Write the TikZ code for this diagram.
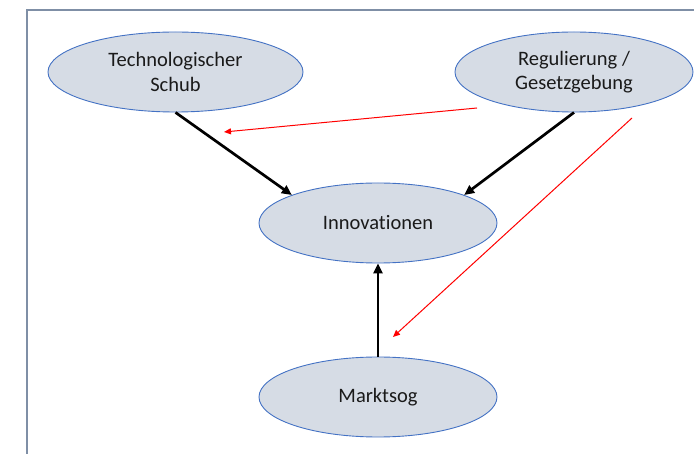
\documentclass[tikz,border=0pt]{standalone}
\usepackage{fontspec}
\setmainfont[Ligatures=NoCommon]{Carlito}
\usetikzlibrary{shapes.geometric,arrows.meta}
\definecolor{ellfill}{HTML}{D6DCE5}
\definecolor{elldraw}{HTML}{4472C4}
\definecolor{framecol}{HTML}{7F8FA6}
\definecolor{txt}{HTML}{1A1A1A}
\tikzset{
  ell/.style={ellipse, draw=elldraw, fill=ellfill, line width=0.9pt, inner sep=0pt,
    minimum height=80pt, text=txt, align=center,
    font=\fontsize{20.5}{24.5}\selectfont},
  blk/.style={line width=2.7pt, -{Triangle[length=10pt,width=9pt]}},
  redarr/.style={red, line width=1pt, -{Triangle[length=7pt,width=6pt]}}
}
\begin{document}
\begin{tikzpicture}[x=1pt,y=-1pt]
\useasboundingbox (0,0) rectangle (694,454);
\draw[framecol, line width=1.6pt] (27,454) -- (27,10) -- (694,10);
\node[ell, minimum width=255pt] (tech) at (175.5,72) {Technologischer\\Schub};
\node[ell, minimum width=238pt] (reg) at (574,72) {Regulierung /\\Gesetzgebung};
\node[ell, minimum width=238pt] (inno) at (378,223) {Innovationen};
\node[ell, minimum width=238pt] (mark) at (378,397) {Marktsog};
\draw[blk] (tech.south) -- (inno.162);
\draw[blk] (reg.south) -- (inno.18);
\draw[blk] (mark.north) -- (inno.south);
\coordinate (r1s) at (477,108);
\coordinate (r1e) at (224,132);
\coordinate (r2s) at (632,118);
\coordinate (r2e) at (393,337);
\draw[redarr] (r1s) -- (r1e);
\draw[redarr] (r2s) -- (r2e);
\end{tikzpicture}
\end{document}
